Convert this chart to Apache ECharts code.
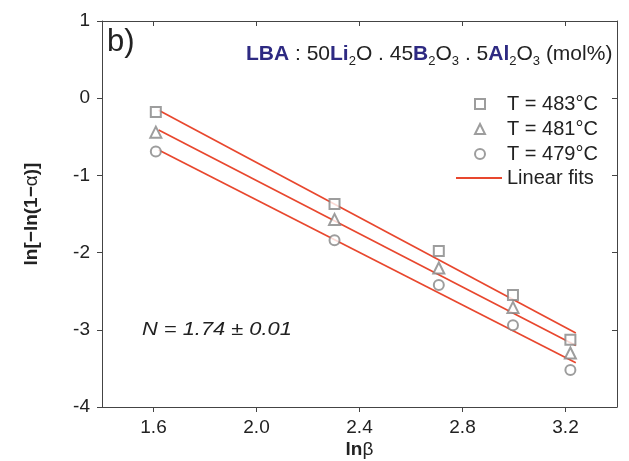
<!DOCTYPE html>
<html><head><meta charset="utf-8">
<script src="https://cdn.jsdelivr.net/npm/echarts@6/dist/echarts.min.js"></script>
<style>html,body{margin:0;padding:0;background:#fff}#c{width:629px;height:461px}</style>
</head><body><div id="c"></div>
<script>
var lnBeta = [1.609, 2.303, 2.708, 2.996, 3.219];
var y483 = [-0.18, -1.37, -1.98, -2.55, -3.13];
var y481 = [-0.44, -1.57, -2.20, -2.71, -3.30];
var y479 = [-0.69, -1.84, -2.42, -2.94, -3.52];
var seriesNames = ['T = 483°C', 'T = 481°C', 'T = 479°C'];
var seriesSymbols = ['emptyRect', 'emptyTriangle', 'emptyCircle'];
var xTicks = [1.6, 2.0, 2.4, 2.8, 3.2];
var fitRange = [1.62, 3.24];

var FONT = 'Liberation Sans';
var RED = '#e8472e';
var GRAY = '#858585';
var AX = '#444';
var TXT = '#222';

function fit(xs, ys) {
  var n = xs.length, mx = 0, my = 0;
  for (var i = 0; i < n; i++) { mx += xs[i]; my += ys[i]; }
  mx /= n; my /= n;
  var sxy = 0, sxx = 0;
  for (var j = 0; j < n; j++) { sxy += (xs[j]-mx)*(ys[j]-my); sxx += (xs[j]-mx)*(xs[j]-mx); }
  var b = sxy / sxx, a = my - b * mx;
  return fitRange.map(function (x) { return [x, a + b * x]; });
}
function pts(ys) { return lnBeta.map(function (x, i) { return [x, ys[i]]; }); }

var data = [y483, y481, y479];
var series = [];
data.forEach(function (ys, k) {
  series.push({
    type: 'line', name: 'Linear fits', data: fit(lnBeta, ys), symbol: 'none',
    lineStyle: { color: RED, width: 1.7 }, itemStyle: { color: RED }, silent: true, z: 2
  });
});
data.forEach(function (ys, k) {
  series.push({
    type: 'scatter', name: seriesNames[k], data: pts(ys), symbol: seriesSymbols[k],
    symbolSize: k === 1 ? 11 : 10,
    itemStyle: { color: GRAY, borderColor: GRAY, borderWidth: 1 }, z: 3
  });
});

var chart = echarts.init(document.getElementById('c'));
chart.setOption({
  animation: false,
  backgroundColor: '#fff',
  grid: { left: 102, right: 12, top: 21, bottom: 54, containLabel: false, outerBoundsMode: 'none' },
  xAxis: [{
    type: 'value', min: 1.4, max: 3.4, position: 'bottom',
    axisLine: { onZero: false, lineStyle: { color: AX, width: 1 } },
    axisTick: { show: true, length: 5, inside: false, customValues: xTicks, lineStyle: { color: AX } },
    axisLabel: { customValues: xTicks, margin: 11, color: TXT, fontFamily: FONT, fontSize: 19,
      formatter: function (v) { return v.toFixed(1); } },
    splitLine: { show: false },
    name: '{b|ln}{n|β}', nameLocation: 'middle', nameGap: 33, nameMoveOverlap: false,
    nameTextStyle: { rich: { b: { fontFamily: FONT, fontSize: 19, fontWeight: 'bold', color: TXT },
      n: { fontFamily: FONT, fontSize: 19, color: TXT } } }
  }, {
    type: 'value', min: 1.4, max: 3.4, position: 'top',
    axisLine: { onZero: false, lineStyle: { color: AX, width: 1 } },
    axisTick: { show: true, length: 5, inside: true, customValues: xTicks, lineStyle: { color: AX } },
    axisLabel: { show: false }, splitLine: { show: false }
  }],
  yAxis: [{
    type: 'value', min: -4, max: 1, interval: 1, position: 'left',
    axisLine: { show: true, onZero: false, lineStyle: { color: AX, width: 1 } },
    axisTick: { show: true, length: 5, inside: false, lineStyle: { color: AX } },
    axisLabel: { margin: 12, color: TXT, fontFamily: FONT, fontSize: 19 },
    splitLine: { show: false },
    name: '{b|ln[−ln(1−}{n|α}{b|)]}', nameLocation: 'middle', nameGap: 61, nameRotate: 90,
    nameTextStyle: { rich: { b: { fontFamily: FONT, fontSize: 19, fontWeight: 'bold', color: TXT },
      n: { fontFamily: FONT, fontSize: 19, color: TXT } } }
  }, {
    type: 'value', min: -4, max: 1, interval: 1, position: 'right',
    axisLine: { show: true, onZero: false, lineStyle: { color: AX, width: 1 } },
    axisTick: { show: true, length: 5, inside: true, lineStyle: { color: AX } },
    axisLabel: { show: false }, splitLine: { show: false }
  }],
  legend: [{
    orient: 'vertical', left: 469, top: 88, itemWidth: 10, itemHeight: 10, itemGap: 3,
    data: seriesNames,
    textStyle: { fontFamily: FONT, fontSize: 20, color: TXT, lineHeight: 22, padding: [0, 0, 0, 17] },
    selectedMode: false
  }, {
    orient: 'vertical', left: 451, top: 162, itemWidth: 46, itemHeight: 2,
    data: [{ name: 'Linear fits', icon: 'rect', itemStyle: { color: RED } }],
    textStyle: { fontFamily: FONT, fontSize: 20, color: TXT, lineHeight: 22 },
    selectedMode: false
  }],
  graphic: [
    { type: 'text', left: 107, top: 27, style: { text: 'b)', fontFamily: FONT, fontSize: 31, fill: TXT } },
    { type: 'text', left: 246, top: 41, style: {
      text: '{c|LBA}{t| : 50}{c|Li}{s|2}{t|O . 45}{c|B}{s|2}{t|O}{s|3}{t| . 5}{c|Al}{s|2}{t|O}{s|3}{t| (mol%)}',
      rich: {
        t: { fontFamily: FONT, fontSize: 21, fill: TXT, lineHeight: 26 },
        c: { fontFamily: FONT, fontSize: 21, fontWeight: 'bold', fill: '#2e2a82', lineHeight: 26 },
        s: { fontFamily: FONT, fontSize: 13, fill: TXT, lineHeight: 14, padding: [14, 0, 0, 0] }
      } } },
    { type: 'text', left: 142, top: 320, scaleX: 1.15, style: { text: 'N = 1.74 ± 0.01', fontFamily: FONT, fontSize: 19,
      fontStyle: 'italic', fill: TXT } }
  ],
  series: series
});
</script></body></html>
